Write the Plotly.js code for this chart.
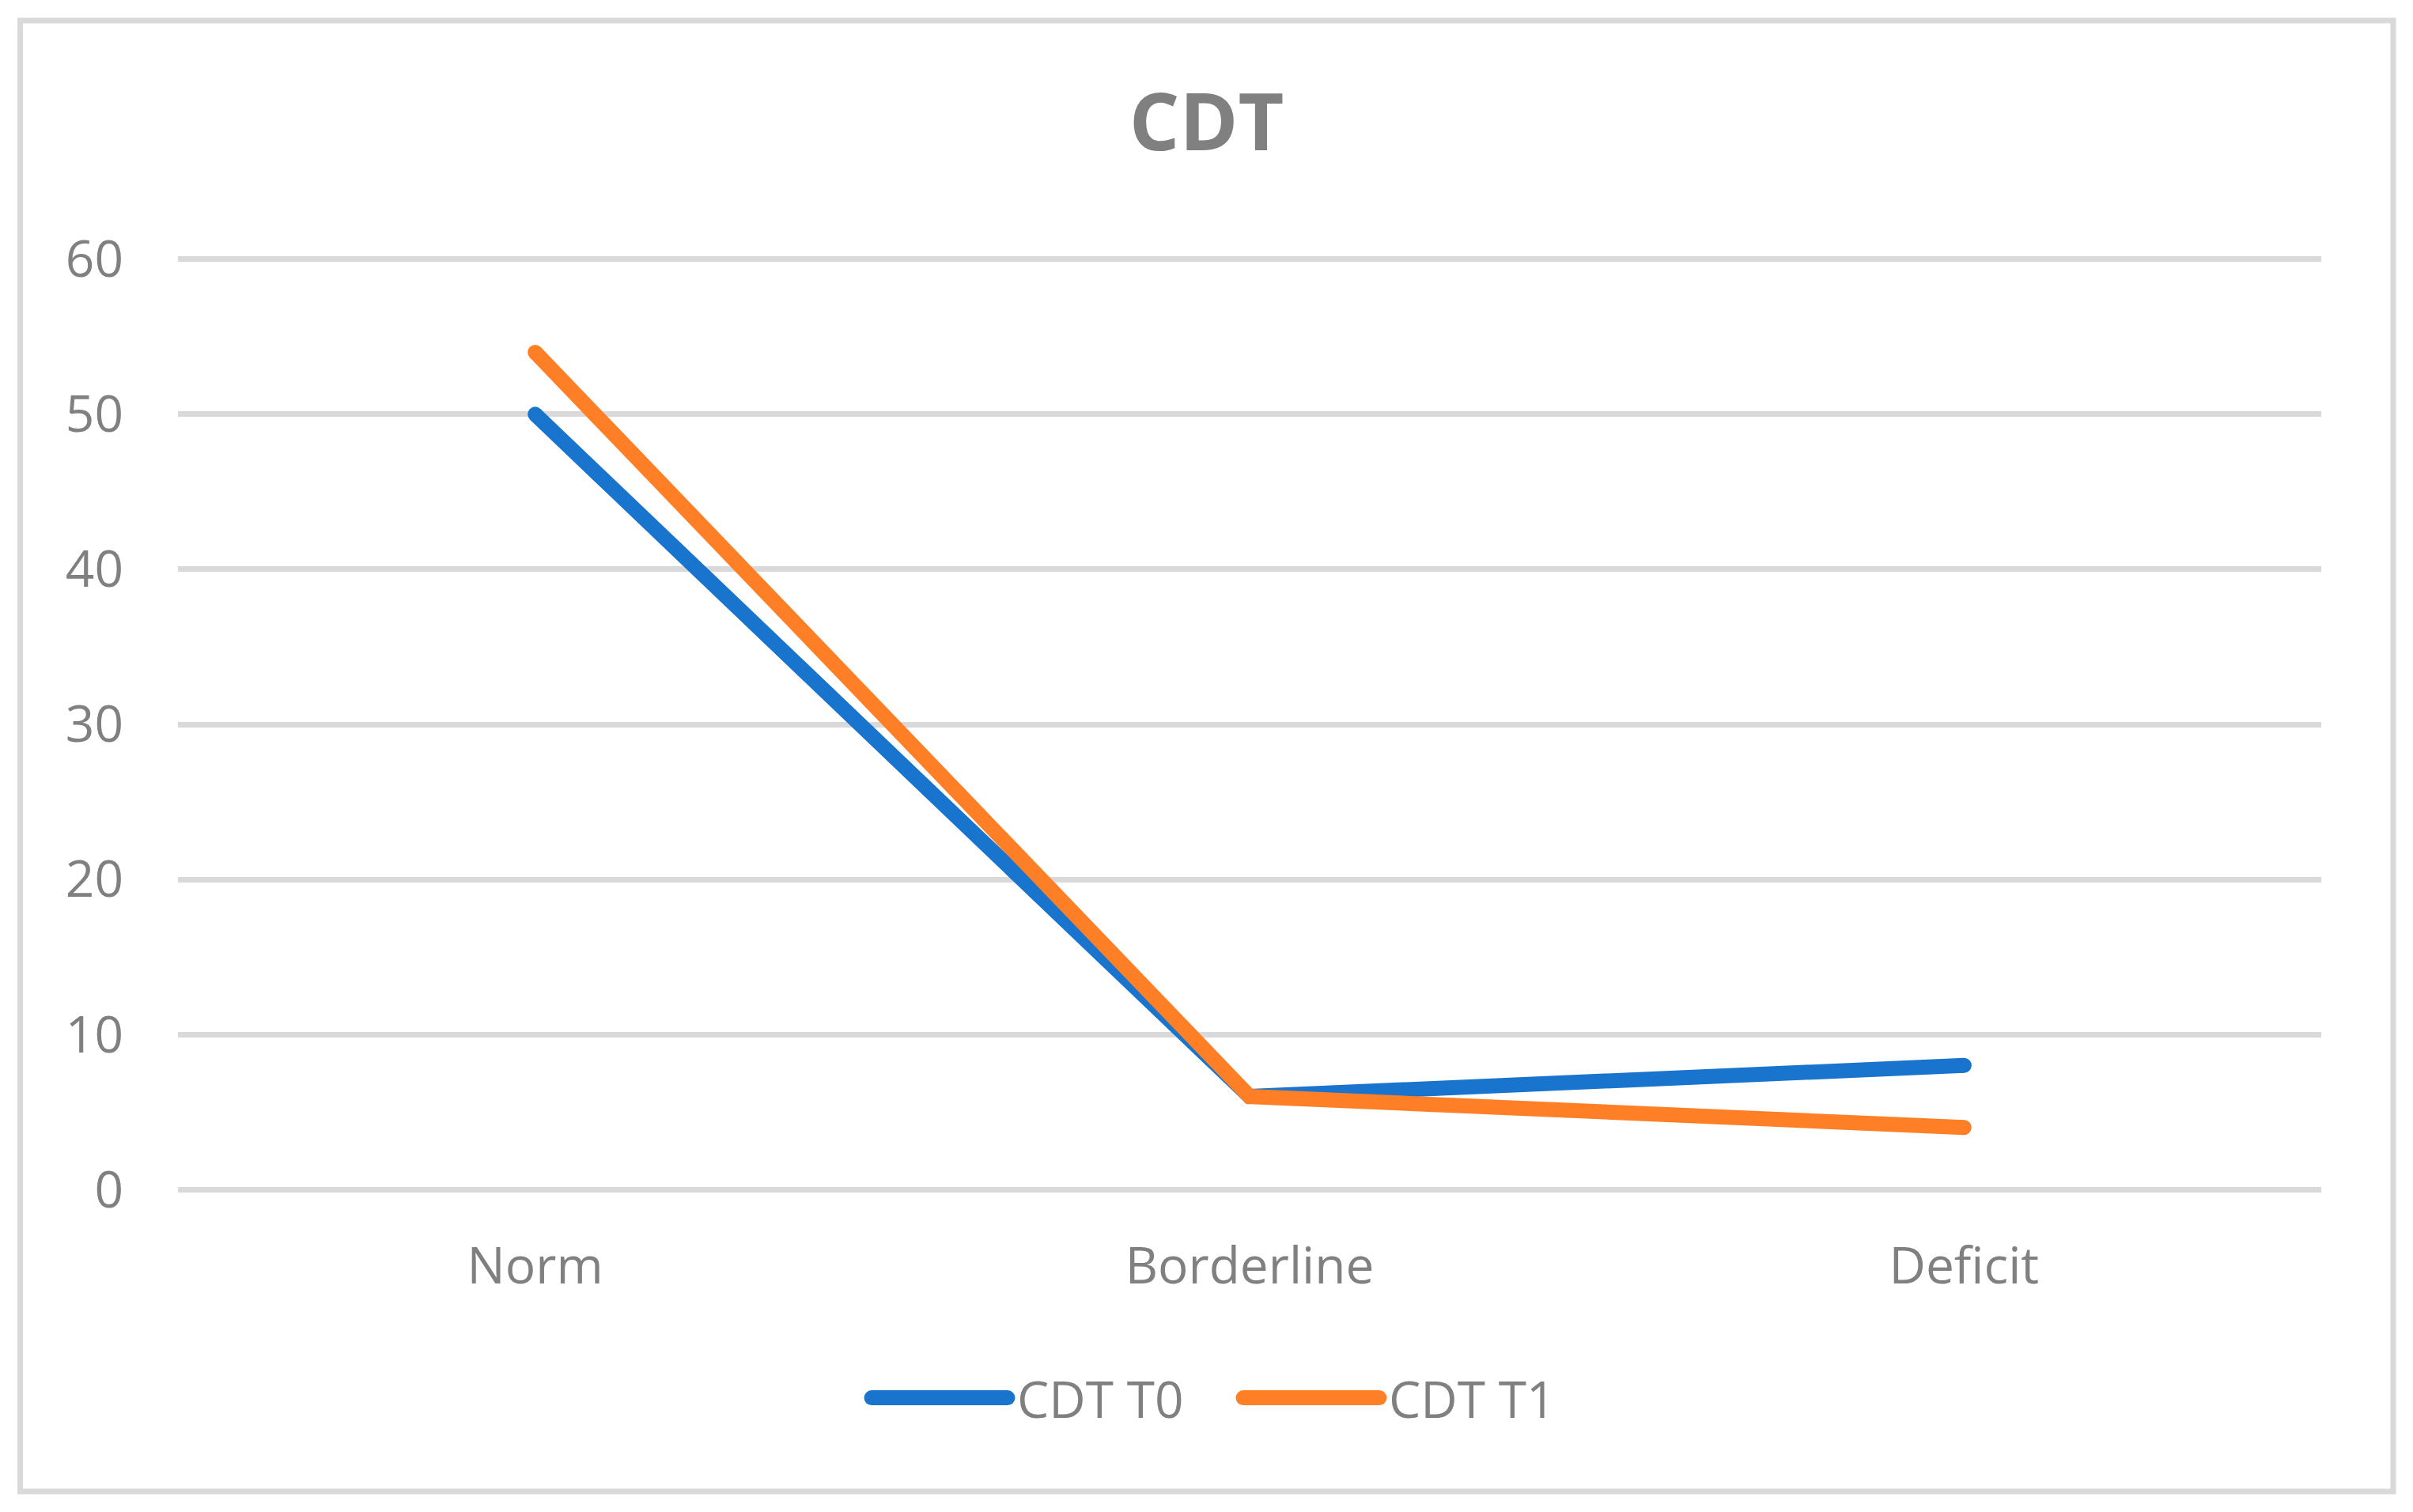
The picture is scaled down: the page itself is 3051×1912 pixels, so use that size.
<!DOCTYPE html>
<html>
<head>
<meta charset="utf-8">
<script src="https://cdn.plot.ly/plotly-3.0.1.min.js"></script>
<style>html,body{margin:0;padding:0;background:#fff;}#chart{width:3051px;height:1912px;}</style>
</head>
<body>
<div id="chart"></div>
<script>
const categories = ["Norm", "Borderline", "Deficit"];
const seriesNames = ["CDT T0", "CDT T1"];
const cdtT0 = [50, 6, 8];
const cdtT1 = [54, 6, 4];
const yTicks = [0, 10, 20, 30, 40, 50, 60];
const chartTitle = "CDT";

const W = 3051, H = 1912;
const mL = 225, mR = 116, mT = 318, mB = 398;
const pw = W - mL - mR, ph = H - mT - mB;
const px2x = X => (X - mL) / pw;
const px2y = Y => (H - mB - Y) / ph;

const blue = "#1874cd", orange = "#ff7f27", grey = "#808080";
const font = "'Open Sans', 'DejaVu Sans', sans-serif";
const legItemW = 190;

function tr(name, y, color) {
  return {
    type: "scatter", mode: "lines+markers", name: name,
    x: categories, y: y,
    line: {color: color, width: 19},
    marker: {color: color, size: 19, symbol: "circle"},
    cliponaxis: false
  };
}

const data = [tr(seriesNames[0], cdtT0, blue), tr(seriesNames[1], cdtT1, orange)];

const layout = {
  width: W, height: H,
  paper_bgcolor: "#fff", plot_bgcolor: "#fff",
  margin: {l: mL, r: mR, t: mT, b: mB, pad: 0},
  title: {text: "<b>" + chartTitle + "</b>", font: {family: font, size: 100, color: grey},
          x: 0.5, xref: "container", xanchor: "center", y: 1 - 155 / H, yref: "container", yanchor: "middle"},
  showlegend: true,
  legend: {orientation: "h", x: 1556 / W, xref: "container", xanchor: "center",
           y: 1 - 1768 / H, yref: "container", yanchor: "middle",
           font: {family: font, size: 64, color: grey}, itemwidth: legItemW, entrywidth: 265,
           bgcolor: "rgba(0,0,0,0)"},
  xaxis: {type: "category", range: [-0.5, 2.5], showgrid: false, zeroline: false, showline: false,
          ticks: "", tickfont: {family: font, size: 64, color: grey}, ticklabelstandoff: 44, fixedrange: true},
  yaxis: {range: [-0.5, 60.5], tickvals: yTicks, ticktext: yTicks.map(String), showgrid: true,
          gridcolor: "#d9d9d9", gridwidth: 7, zeroline: false, showline: false, ticks: "",
          tickfont: {family: font, size: 64, color: grey}, ticklabelstandoff: 68, fixedrange: true},
  shapes: [{type: "rect", xref: "paper", yref: "paper",
            x0: px2x(25.5), x1: px2x(3026), y0: px2y(1886), y1: px2y(26),
            line: {color: "#d9d9d9", width: 7}, fillcolor: "rgba(0,0,0,0)", layer: "below"}]
};

function thickenLegend() {
  document.querySelectorAll("#chart .legend .legendlines path").forEach(p => {
    p.setAttribute("d", "M16,0h" + (legItemW - 18));
    p.style.strokeWidth = "19px";
    p.style.strokeLinecap = "round";
  });
  document.querySelectorAll("#chart .legend .legendpoints path").forEach(p => {
    p.style.display = "none";
  });
}

Plotly.newPlot("chart", data, layout, {displayModeBar: false, staticPlot: true}).then(thickenLegend);
</script>
</body>
</html>
